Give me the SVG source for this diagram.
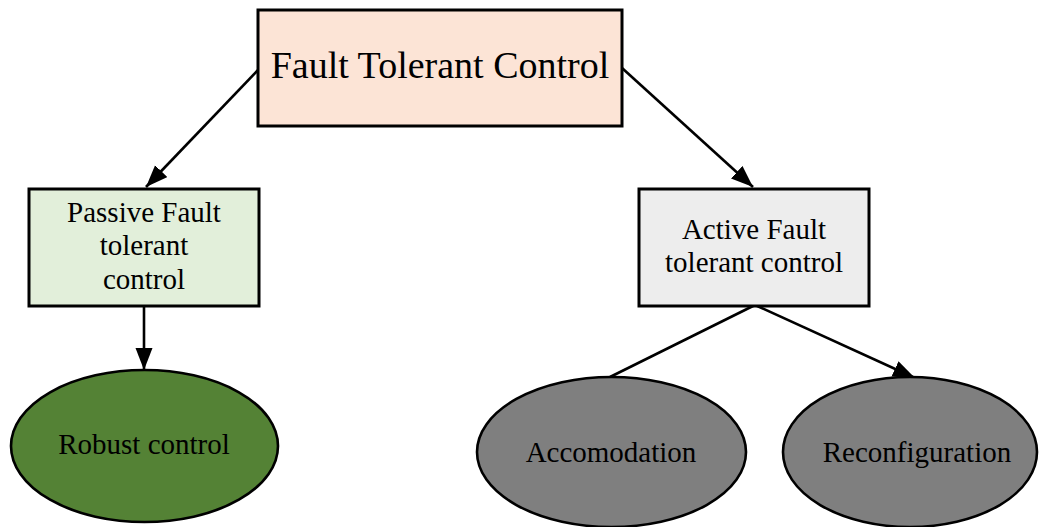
<svg xmlns="http://www.w3.org/2000/svg" width="1040" height="527" viewBox="0 0 1040 527">
  <style>
    .box { stroke: #000; stroke-width: 3; }
    .oval { stroke: #000; stroke-width: 2.6; }
    .edge { stroke: #000; stroke-width: 2.6; fill: none; }
    text { font-family: "Liberation Serif", "Times New Roman", serif; fill: #000; text-anchor: middle; }
    .big { font-size: 38px; }
    .lbl { font-size: 29px; }
  </style>
  <defs>
    <marker id="arrow" markerUnits="userSpaceOnUse" markerWidth="24" markerHeight="18" refX="22" refY="8.5" orient="auto">
      <path d="M0,0 L22,8.5 L0,17 Z" fill="#000"/>
    </marker>
  </defs>

  <g id="connectors">
    <line class="edge" x1="259" y1="69" x2="146" y2="187" marker-end="url(#arrow)"/>
    <line class="edge" x1="622" y1="68" x2="753" y2="187" marker-end="url(#arrow)"/>
    <line class="edge" x1="144" y1="306" x2="144" y2="370" marker-end="url(#arrow)"/>
    <line class="edge" x1="755" y1="305" x2="610" y2="377"/>
    <line class="edge" x1="755" y1="305" x2="915" y2="378" marker-end="url(#arrow)"/>
  </g>

  <g id="ftc">
    <rect class="box" x="258" y="10" width="364" height="116" fill="#fce4d6"/>
    <text class="big" x="440" y="78">Fault Tolerant Control</text>
  </g>

  <g id="passive">
    <rect class="box" x="29" y="189" width="230" height="117" fill="#e2efda"/>
    <text class="lbl" x="144" y="222">Passive Fault</text>
    <text class="lbl" x="144" y="255">tolerant</text>
    <text class="lbl" x="144" y="289">control</text>
  </g>

  <g id="active">
    <rect class="box" x="639" y="189" width="230" height="117" fill="#ededed"/>
    <text class="lbl" x="754" y="239">Active Fault</text>
    <text class="lbl" x="754" y="272">tolerant control</text>
  </g>

  <g id="robust">
    <ellipse class="oval" cx="144.5" cy="446" rx="133.5" ry="76" fill="#548235"/>
    <text class="lbl" x="144" y="454">Robust control</text>
  </g>

  <g id="accomodation">
    <ellipse class="oval" cx="611.5" cy="452" rx="134.5" ry="75" fill="#7f7f7f"/>
    <text class="lbl" x="611" y="462">Accomodation</text>
  </g>

  <g id="reconfiguration">
    <ellipse class="oval" cx="910" cy="452" rx="127" ry="75" fill="#7f7f7f"/>
    <text class="lbl" x="917" y="462">Reconfiguration</text>
  </g>
</svg>
